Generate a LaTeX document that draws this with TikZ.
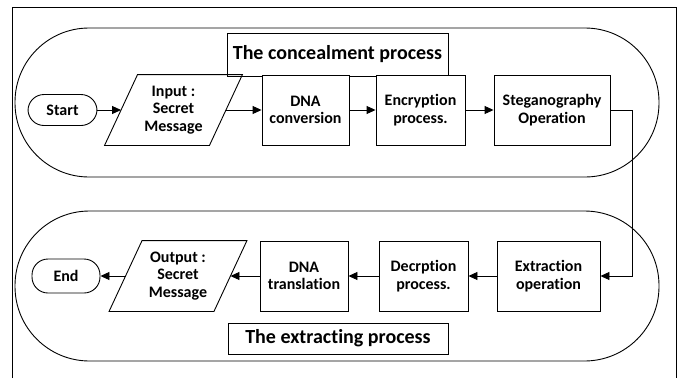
\documentclass[tikz,border=0pt]{standalone}
\usepackage{fontspec}
\setmainfont{Carlito}[Ligatures=NoCommon]
\usetikzlibrary{arrows.meta}

\begin{document}
\begin{tikzpicture}[x=1pt, y=-1pt, line width=0.9pt,
  txt/.style={font=\bfseries\fontsize{16}{17.5}\selectfont, align=center},
  procbox/.style={txt, draw, fill=white, minimum height=70pt, inner sep=0pt},
  iobox/.style={txt, minimum width=104pt, minimum height=70pt, inner sep=0pt},
  termbox/.style={txt, draw, fill=white, rounded corners=16pt, inner sep=0pt},
  titlebox/.style={draw, fill=white, inner sep=0pt, font=\bfseries\fontsize{20}{22}\selectfont},
  flow/.style={-{Triangle[length=9pt,width=8pt]}}
]
\useasboundingbox (0,0) rectangle (682,378);

% outer frame (open at the bottom)
\draw (12,378) -- (12,7) -- (676,7) -- (676,378);

% the two process lanes
\draw[rounded corners=74pt] (15,28) rectangle (659,177);
\draw[rounded corners=74.5pt] (15,211) rectangle (659,361);

% lane titles
\node[titlebox, minimum width=221pt, minimum height=43pt] (ttop) at (337.5,54.5) {The concealment process};
\node[titlebox, minimum width=220pt, minimum height=31pt] (tbot) at (338,338.5) {The extracting process};

% concealment row
\node[termbox, minimum width=69pt, minimum height=31pt] (start) at (62.5,110) {Start};
\node[iobox] (in) at (173.5,110) {Input :\\Secret\\Message};
\node[procbox, minimum width=87pt] (dna) at (305.5,110) {DNA\\conversion};
\node[procbox, minimum width=89pt] (enc) at (420.5,110) {Encryption\\process.};
\node[procbox, minimum width=116pt] (steg) at (552,110) {Steganography\\Operation};

% extraction row
\node[procbox, minimum width=103pt] (ext) at (548.5,276) {Extraction\\operation};
\node[procbox, minimum width=89pt] (dec) at (423.5,276) {Decrption\\process.};
\node[procbox, minimum width=88pt] (tra) at (304,276) {DNA\\translation};
\node[iobox] (out) at (178,276) {Output :\\Secret\\Message};
\node[termbox, minimum width=68pt, minimum height=34pt] (end) at (66,276) {End};

% slanted input/output outlines around their text nodes
\foreach \n in {in,out}
  \draw ([xshift=-16.5pt]\n.south west) -- ([xshift=16.5pt]\n.north west)
     -- ([xshift=16.5pt]\n.north east) -- ([xshift=-16.5pt]\n.south east) -- cycle;

% connectors
\draw[flow] (start.east) -- (in.west);
\draw[flow] (in.east) -- (dna.west);
\draw[flow] (dna.east) -- (enc.west);
\draw[flow] (enc.east) -- (steg.west);
\coordinate (turn) at (632,110);
\draw[flow] (steg.east) -- (turn) |- (ext.east);
\draw[flow] (ext.west) -- (dec.east);
\draw[flow] (dec.west) -- (tra.east);
\draw[flow] (tra.west) -- (out.east);
\draw[flow] (out.west) -- (end.east);
\end{tikzpicture}
\end{document}
